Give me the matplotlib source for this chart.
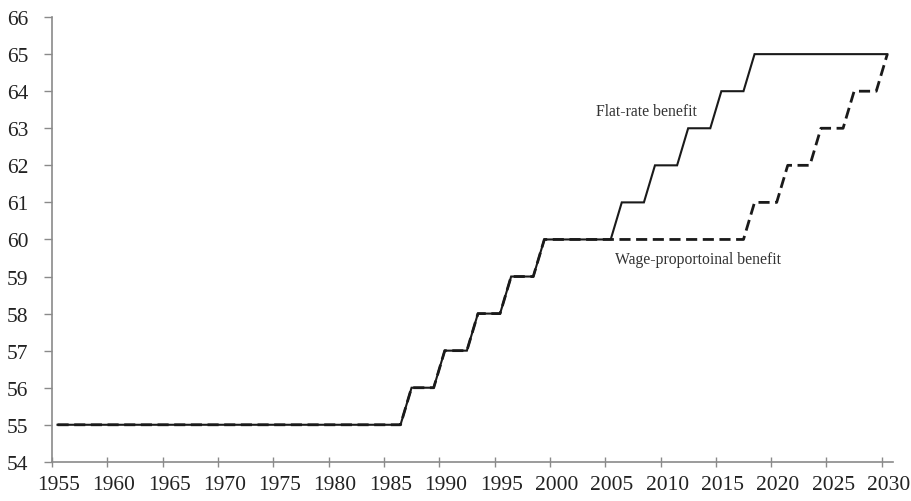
import matplotlib
matplotlib.use('Agg')
import matplotlib.pyplot as plt
import numpy as np

plt.rcParams['font.family'] = ['Liberation Serif', 'DejaVu Serif']

# datasets
years = list(range(1955, 2031))
flat_rate = [55, 55, 55, 55, 55, 55, 55, 55, 55, 55,   # 1955-1964
             55, 55, 55, 55, 55, 55, 55, 55, 55, 55,   # 1965-1974
             55, 55, 55, 55, 55, 55, 55, 55, 55, 55,   # 1975-1984
             55, 55, 56, 56, 56, 57, 57, 57, 58, 58,   # 1985-1994
             58, 59, 59, 59, 60, 60, 60, 60, 60, 60,   # 1995-2004
             60, 61, 61, 61, 62, 62, 62, 63, 63, 63,   # 2005-2014
             64, 64, 64, 65, 65, 65, 65, 65, 65, 65,   # 2015-2024
             65, 65, 65, 65, 65, 65]                   # 2025-2030
wage_prop = [55, 55, 55, 55, 55, 55, 55, 55, 55, 55,
             55, 55, 55, 55, 55, 55, 55, 55, 55, 55,
             55, 55, 55, 55, 55, 55, 55, 55, 55, 55,
             55, 55, 56, 56, 56, 57, 57, 57, 58, 58,
             58, 59, 59, 59, 60, 60, 60, 60, 60, 60,
             60, 60, 60, 60, 60, 60, 60, 60, 60, 60,
             60, 60, 60, 61, 61, 61, 62, 62, 62, 63,
             63, 63, 64, 64, 64, 65]
tick_years = [1955, 1960, 1965, 1970, 1975, 1980, 1985, 1990,
              1995, 2000, 2005, 2010, 2015, 2020, 2025, 2030]

fig = plt.figure(figsize=(9.12, 5.02), dpi=100)
ax = fig.add_axes([0.057, 0.078, 0.922, 0.886])

ax.plot(years, flat_rate, color='#1a1a1a', lw=1.5, solid_joinstyle='miter')
ax.plot(years, wage_prop, color='#1a1a1a', lw=2.0, dashes=(4, 2))

ax.text(2003.7, 63.47, 'Flat-rate benefit', fontsize=11.3, color='#333333',
        ha='left', va='center')
ax.text(2005.4, 59.47, 'Wage-proportoinal benefit', fontsize=11.3, color='#333333',
        ha='left', va='center')

ax.set_xlim(1954.5, 2030.5)
ax.set_ylim(54, 66)
ax.set_yticks(np.arange(54, 67, 1))

# category style axis: ticks at boundaries, labels at centres
ax.set_xticks([y - 0.5 for y in tick_years])
ax.set_xticklabels([])
for y in tick_years:
    ax.text(y + 0.1, -0.03, str(y), transform=ax.get_xaxis_transform(),
            ha='center', va='top', fontsize=15.5, color='#222222', clip_on=False)

for s in ['top', 'right']:
    ax.spines[s].set_visible(False)
for s in ['left', 'bottom']:
    ax.spines[s].set_color('#8a8a8a')
    ax.spines[s].set_linewidth(1.2)

ax.tick_params(axis='y', direction='out', length=6, width=1, color='#8a8a8a',
               labelsize=15.5, labelcolor='#222222', pad=11)
ax.tick_params(axis='x', direction='inout', length=7, width=1, color='#8a8a8a')

plt.savefig('out.png', dpi=100)
